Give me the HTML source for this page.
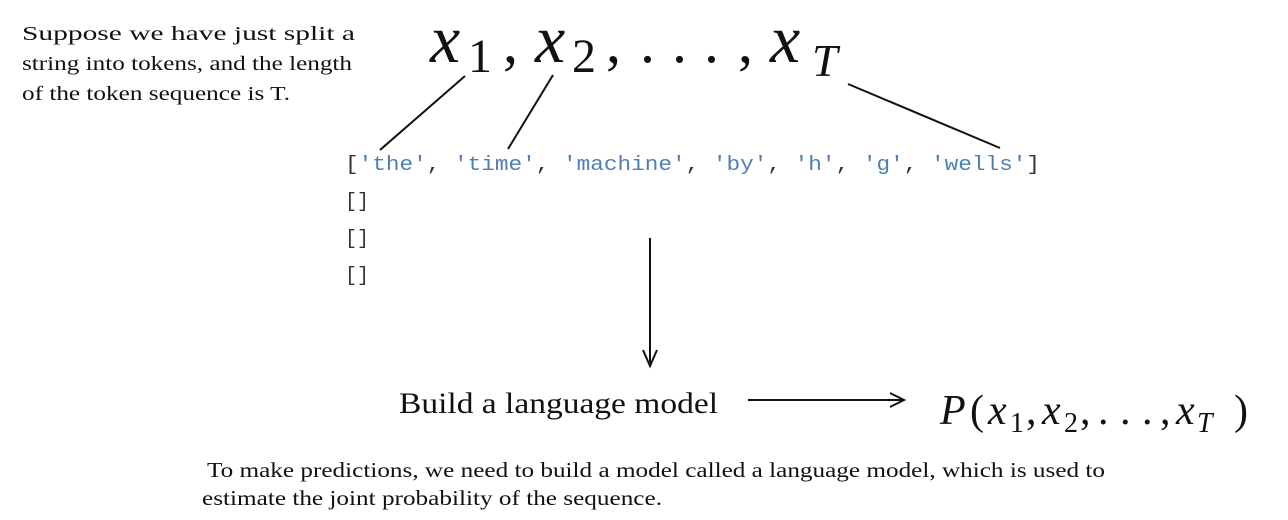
<!DOCTYPE html>
<html><head><meta charset="utf-8"><style>
body{margin:0;background:#fff;}
svg{display:block}
</style></head><body>
<svg width="1288" height="520" xmlns="http://www.w3.org/2000/svg">
<g font-family="Liberation Serif, serif" fill="#111" font-size="20">
<text x="22" y="40" textLength="333" lengthAdjust="spacingAndGlyphs">Suppose we have just split a</text>
<text x="22" y="70" textLength="330" lengthAdjust="spacingAndGlyphs">string into tokens, and the length</text>
<text x="22" y="100" textLength="268" lengthAdjust="spacingAndGlyphs">of the token sequence is T.</text>
</g>
<g font-family="Liberation Serif, serif" fill="#111">
<text x="430" y="62" font-size="68" font-style="italic">x</text>
<text x="468" y="72" font-size="48">1</text>
<text x="503" y="62" font-size="60">,</text>
<text x="535" y="62" font-size="68" font-style="italic">x</text>
<text x="572" y="72" font-size="48">2</text>
<text x="606" y="62" font-size="60">,</text>
<text x="640" y="62" font-size="60">.</text>
<text x="672" y="62" font-size="60">.</text>
<text x="704" y="62" font-size="60">.</text>
<text x="738" y="62" font-size="60">,</text>
<text x="770" y="62" font-size="68" font-style="italic">x</text>
<text x="812" y="76" font-size="46" font-style="italic">T</text>
</g>
<g stroke="#111" stroke-width="2" fill="none">
<line x1="465" y1="76" x2="380" y2="150"/>
<line x1="553" y1="75" x2="508" y2="149"/>
<line x1="848" y1="84" x2="1000" y2="148"/>
<line x1="650" y1="238" x2="650" y2="363"/>
<polyline points="643,350 650,366 657,350"/>
<line x1="748" y1="400" x2="903" y2="400"/>
<polyline points="890,393 904,400 890,407"/>
</g>
<g font-family="Liberation Mono, DejaVu Sans Mono, monospace" font-size="20.5" fill="#333">
<text x="345" y="170" textLength="695" lengthAdjust="spacingAndGlyphs">[<tspan fill="#4f7fb3">'the'</tspan>, <tspan fill="#4f7fb3">'time'</tspan>, <tspan fill="#4f7fb3">'machine'</tspan>, <tspan fill="#4f7fb3">'by'</tspan>, <tspan fill="#4f7fb3">'h'</tspan>, <tspan fill="#4f7fb3">'g'</tspan>, <tspan fill="#4f7fb3">'wells'</tspan>]</text>
<text x="345" y="207" textLength="24" lengthAdjust="spacingAndGlyphs">[]</text>
<text x="345" y="244" textLength="24" lengthAdjust="spacingAndGlyphs">[]</text>
<text x="345" y="281" textLength="24" lengthAdjust="spacingAndGlyphs">[]</text>
</g>
<g font-family="Liberation Serif, serif" fill="#111">
<text x="399" y="413" font-size="30" textLength="319" lengthAdjust="spacingAndGlyphs">Build a language model</text>
<text x="940" y="424" font-size="42" font-style="italic">P</text>
<text x="970" y="424" font-size="42">(</text>
<text x="988" y="424" font-size="42" font-style="italic">x</text>
<text x="1010" y="432" font-size="28">1</text>
<text x="1026" y="424" font-size="42">,</text>
<text x="1042" y="424" font-size="42" font-style="italic">x</text>
<text x="1064" y="432" font-size="28">2</text>
<text x="1080" y="424" font-size="42">,</text>
<text x="1098" y="424" font-size="42">.</text>
<text x="1120" y="424" font-size="42">.</text>
<text x="1142" y="424" font-size="42">.</text>
<text x="1160" y="424" font-size="42">,</text>
<text x="1176" y="424" font-size="42" font-style="italic">x</text>
<text x="1197" y="432" font-size="28" font-style="italic">T</text>
<text x="1234" y="424" font-size="42">)</text>
<text x="207" y="477" font-size="21" textLength="898" lengthAdjust="spacingAndGlyphs">To make predictions, we need to build a model called a language model, which is used to</text>
<text x="202" y="505" font-size="21" textLength="460" lengthAdjust="spacingAndGlyphs">estimate the joint probability of the sequence.</text>
</g>
</svg>
</body></html>
